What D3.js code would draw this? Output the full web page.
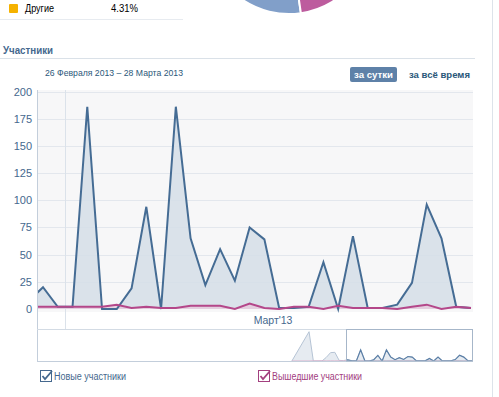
<!DOCTYPE html>
<html>
<head>
<meta charset="utf-8">
<script src="https://cdn.jsdelivr.net/npm/d3@7"></script>
<style>
  body { margin: 0; background: #fff; }
  svg { display: block; font-family: "Liberation Sans", Arial, sans-serif; }
</style>
</head>
<body>
<script>
// visible period, one point per day (first day falls just off the left edge)
const days = [
  "2013-02-26", "2013-02-27", "2013-02-28", "2013-03-01", "2013-03-02", "2013-03-03",
  "2013-03-04", "2013-03-05", "2013-03-06", "2013-03-07", "2013-03-08", "2013-03-09",
  "2013-03-10", "2013-03-11", "2013-03-12", "2013-03-13", "2013-03-14", "2013-03-15",
  "2013-03-16", "2013-03-17", "2013-03-18", "2013-03-19", "2013-03-20", "2013-03-21",
  "2013-03-22", "2013-03-23", "2013-03-24", "2013-03-25", "2013-03-26", "2013-03-27",
  "2013-03-28"
];
const joined = [7, 20, 2, 2, 186, 0, 0, 19, 94, 0, 186, 65, 22, 55, 26, 75, 64, 1, 1, 2,
  43, 0, 67, 1, 1, 4, 24, 96, 65, 2, 1];
const left = [2, 2, 2, 2, 2, 2, 4, 1, 2, 1, 1, 3, 3, 3, 0, 5, 1, 0, 2, 2,
  0, 3, 1, 1, 1, 0, 2, 4, 0, 2, 1];

// earlier history, only shown in the navigator
const navDays = ["2013-02-14", "2013-02-18", "2013-02-19", "2013-02-21", "2013-02-22",
  "2013-02-23", "2013-02-24", "2013-02-25"];
const navJoined = [0, 490, 0, 0, 60, 140, 145, 10];
const navLeft = [0, 0, 2, 3, 1, 2, 1, 2];

const yTicks = [0, 25, 50, 75, 100, 125, 150, 175, 200];
const monthLabels = ["Март'13"];

const legendTop = { name: "Другие", pct: "4.31%" };
const periodText = "26 Февраля 2013 – 28 Марта 2013";

const W = 499, H = 397;
const parse = d3.timeParse("%Y-%m-%d");
const noon = s => d3.timeHour.offset(parse(s), 12);

const svg = d3.select("body").append("svg").attr("width", W).attr("height", H);

// small helper: text fitted to the width the original font had
function label(px, py, str, size, color, width, bold) {
  const t = svg.append("text").attr("x", px).attr("y", py).attr("font-size", size)
    .attr("fill", color).text(str);
  if (bold) t.attr("font-weight", "bold");
  if (width) t.attr("textLength", width).attr("lengthAdjust", "spacingAndGlyphs");
  return t;
}

// ---- top: end of the previous block (legend row + pie) ----
svg.append("rect").attr("x", 9).attr("y", 4).attr("width", 9).attr("height", 9)
  .attr("rx", 1).attr("fill", "#f5b200");
label(25, 12, legendTop.name, 10, "#000", 29);
label(111, 12, legendTop.pct, 10, "#000", 27);
svg.append("line").attr("x1", 0).attr("x2", 183).attr("y1", 19.5).attr("y2", 19.5)
  .attr("stroke", "#e7ebf0");

const pieArc = d3.arc().innerRadius(0).outerRadius(83);
const pieG = svg.append("g").attr("transform", "translate(289,-69)");
pieG.append("path").attr("d", pieArc({ startAngle: 2.998, endAngle: 4.6 }))
  .attr("fill", "#819fc9").attr("stroke", "#fff").attr("stroke-width", 2);
pieG.append("path").attr("d", pieArc({ startAngle: 2.2, endAngle: 2.998 }))
  .attr("fill", "#bd5c9e").attr("stroke", "#fff").attr("stroke-width", 2);

// right border of the page column
svg.append("line").attr("x1", 492.5).attr("x2", 492.5).attr("y1", 0).attr("y2", H)
  .attr("stroke", "#dde3ea");

// ---- section header ----
label(3, 54, "Участники", 10.5, "#45688e", 50, true);
svg.append("line").attr("x1", 0).attr("x2", 475).attr("y1", 58.5).attr("y2", 58.5)
  .attr("stroke", "#dae1e8");

label(45, 76, periodText, 9.5, "#2b587a", 138);

svg.append("rect").attr("x", 350).attr("y", 67).attr("width", 47).attr("height", 15)
  .attr("rx", 2).attr("fill", "#5e81a8");
label(354, 78, "за сутки", 9.5, "#fff", 39, true);
label(409, 78, "за всё время", 9.5, "#2b587a", 61, true);

// ---- main chart ----
const plot = { left: 37, right: 473, top: 90, zeroBand: 312, axisBottom: 329 };
const x = d3.scaleTime()
  .domain([d3.timeMinute.offset(noon("2013-02-27"), -586), d3.timeMinute.offset(noon("2013-03-28"), 195)])
  .range([plot.left, plot.right]);
const y = d3.scaleLinear().domain([0, 200]).range([309, 91.5]);

const defs = svg.append("defs");
defs.append("clipPath").attr("id", "clipMain").append("rect")
  .attr("x", plot.left).attr("y", plot.top - 5)
  .attr("width", plot.right - plot.left).attr("height", plot.axisBottom - plot.top + 5);

svg.append("rect").attr("x", plot.left).attr("y", plot.top)
  .attr("width", plot.right - plot.left).attr("height", plot.zeroBand - plot.top)
  .attr("fill", "#f7f7f8");

svg.append("g").selectAll("line").data(yTicks.filter(d => d > 0)).join("line")
  .attr("x1", plot.left).attr("x2", plot.right)
  .attr("y1", d => Math.round(y(d)) + 0.5).attr("y2", d => Math.round(y(d)) + 0.5)
  .attr("stroke", "#e3e7ed");

const yAxis = svg.append("g").attr("transform", `translate(${plot.left},0)`)
  .call(d3.axisLeft(y).tickValues(yTicks).tickSize(0).tickPadding(5));
yAxis.select(".domain").remove();
yAxis.selectAll("text").attr("font-size", 11).attr("fill", "#45688e")
  .attr("font-family", "Liberation Sans, Arial, sans-serif");

// month boundaries
const months = d3.timeMonth.range(x.domain()[0], x.domain()[1]);
svg.append("g").selectAll("line").data(months).join("line")
  .attr("x1", d => Math.round(x(d)) + 0.5).attr("x2", d => Math.round(x(d)) + 0.5)
  .attr("y1", plot.top).attr("y2", plot.axisBottom)
  .attr("stroke", "#dbe2ea");
svg.append("g").selectAll("text").data(months).join("text")
  .attr("x", d => (x(d) + plot.right) / 2 + 4).attr("y", 324)
  .attr("text-anchor", "middle").attr("font-size", 10.5).attr("fill", "#45688e")
  .text((d, i) => monthLabels[i]);

const joinedPts = days.map((d, i) => ({ t: noon(d), v: joined[i] }));
const leftPts = days.map((d, i) => ({ t: noon(d), v: left[i] }));

const area = d3.area().x(d => x(d.t)).y0(y(0)).y1(d => y(d.v));
const line = d3.line().x(d => x(d.t)).y(d => y(d.v));

const main = svg.append("g").attr("clip-path", "url(#clipMain)");
main.append("path").datum(joinedPts).attr("d", area).attr("fill", "#d5dee8").attr("fill-opacity", 0.85);
main.append("path").datum(leftPts).attr("d", area).attr("fill", "#e6c9dc").attr("fill-opacity", 0.8);
main.append("path").datum(joinedPts).attr("d", line).attr("fill", "none")
  .attr("stroke", "#456c94").attr("stroke-width", 2).attr("stroke-linejoin", "miter");
main.append("path").datum(leftPts).attr("d", line).attr("fill", "none")
  .attr("stroke", "#b4478a").attr("stroke-width", 2);

// axis frame
svg.append("line").attr("x1", plot.left + 0.5).attr("x2", plot.left + 0.5)
  .attr("y1", plot.top).attr("y2", 361).attr("stroke", "#c3cedb");

// ---- navigator ----
const nav = { top: 329.5, bottom: 361 };
const nx = d3.scaleTime().domain(x.domain()).range([346, plot.right]);
const ny = d3.scaleLinear().domain([0, 510]).range([nav.bottom, nav.top + 1]);

svg.append("line").attr("x1", plot.left).attr("x2", plot.right)
  .attr("y1", nav.top).attr("y2", nav.top).attr("stroke", "#d3dbe4");
svg.append("line").attr("x1", plot.left).attr("x2", plot.right)
  .attr("y1", nav.bottom + 0.5).attr("y2", nav.bottom + 0.5).attr("stroke", "#c3cedb");

defs.append("clipPath").attr("id", "clipNav").append("rect")
  .attr("x", plot.left).attr("y", nav.top).attr("width", plot.right - plot.left)
  .attr("height", nav.bottom - nav.top);
defs.append("clipPath").attr("id", "clipSel").append("rect")
  .attr("x", 346).attr("y", nav.top).attr("width", plot.right - 346)
  .attr("height", nav.bottom - nav.top);

const navJ = navDays.map((d, i) => ({ t: noon(d), v: navJoined[i] })).concat(joinedPts);
const navL = navDays.map((d, i) => ({ t: noon(d), v: navLeft[i] })).concat(leftPts);
const nArea = d3.area().x(d => nx(d.t)).y0(nav.bottom).y1(d => ny(d.v));
const nLine = d3.line().x(d => nx(d.t)).y(d => ny(d.v));

const ng = svg.append("g").attr("clip-path", "url(#clipNav)");
ng.append("path").datum(navJ).attr("d", nArea).attr("fill", "#e6ebf1");
ng.append("path").datum(navJ).attr("d", nLine).attr("fill", "none")
  .attr("stroke", "#b5c3d4").attr("stroke-width", 1);
ng.append("path").datum(navL).attr("d", nLine).attr("fill", "none")
  .attr("stroke", "#dcb3cc").attr("stroke-width", 1);
const sg = svg.append("g").attr("clip-path", "url(#clipSel)");
sg.append("path").datum(navJ).attr("d", nLine).attr("fill", "none")
  .attr("stroke", "#5b7fa6").attr("stroke-width", 1.2);

svg.append("rect").attr("x", 346.5).attr("y", nav.top).attr("width", plot.right - 347)
  .attr("height", nav.bottom - nav.top).attr("fill", "none").attr("stroke", "#a6b6c9");

// ---- legend ----
function checkbox(gx, gy, color, text, width) {
  const g = svg.append("g").attr("transform", `translate(${gx},${gy})`);
  g.append("rect").attr("x", 0.5).attr("y", 0.5).attr("width", 11).attr("height", 11)
    .attr("fill", "#fff").attr("stroke", color);
  g.append("path").attr("d", "M2.5,6 L5,9 L12,1").attr("fill", "none")
    .attr("stroke", color).attr("stroke-width", 1.8);
  label(gx + 14, gy + 10, text, 10, color, width);
}
checkbox(40, 370, "#45688e", "Новые участники", 72);
checkbox(258, 370, "#a3407f", "Вышедшие участники", 90);
</script>
</body>
</html>
